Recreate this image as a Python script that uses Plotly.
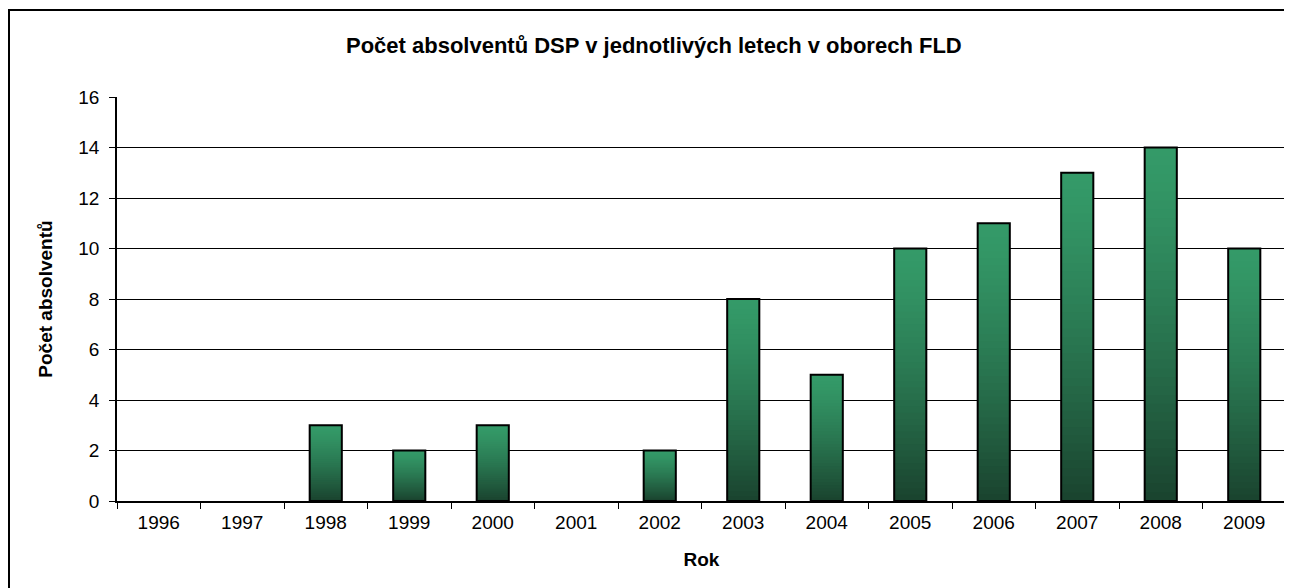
import plotly.graph_objects as go

years = ["1996", "1997", "1998", "1999", "2000", "2001", "2002",
         "2003", "2004", "2005", "2006", "2007", "2008", "2009"]
graduates = [0, 0, 3, 2, 3, 0, 2, 8, 5, 10, 11, 13, 14, 10]
y_ticks = [0, 2, 4, 6, 8, 10, 12, 14, 16]

OFF = 8  # page body margin
W, H = 1292 - OFF, 588 - OFF
L, T = 117 - OFF, 97 - OFF
R = W - (1286 - OFF)
B = H - (501 - OFF)
pw, ph = W - L - R, H - T - B

top_rgb = (52, 154, 104)
bot_rgb = (26, 68, 47)

fig = go.Figure()
N = 40
for k in range(N):
    f = 1 - k / N          # fraction of bar height
    t = (k / (N - 1)) ** 1.3
    c = tuple(round(top_rgb[i] + (bot_rgb[i] - top_rgb[i]) * t) for i in range(3))
    fig.add_trace(go.Bar(
        x=years, y=[v * f for v in graduates],
        marker=dict(color="rgb(%d,%d,%d)" % c, line=dict(width=0)),
        hoverinfo="skip", showlegend=False))
fig.add_trace(go.Bar(
    x=years, y=[v if v > 0 else None for v in graduates],
    marker=dict(color="rgba(0,0,0,0)", line=dict(color="black", width=2)),
    showlegend=False, name="Počet absolventů"))

fig.update_layout(
    width=W, height=H,
    margin=dict(l=L, r=R, t=T, b=B),
    barmode="overlay", bargap=0.615,
    paper_bgcolor="white", plot_bgcolor="white",
    font=dict(family="Liberation Sans, Arial, sans-serif", size=19, color="black"),
    title=dict(text="<b>Počet absolventů DSP v jednotlivých letech v oborech FLD</b>",
               font=dict(size=22), xref="container", x=0.503, xanchor="center",
               yref="container", y=1 - (45 - OFF) / H, yanchor="middle"),
)
fig.update_xaxes(
    type="category", showline=True, linecolor="black", linewidth=1.5,
    ticks="outside", tickson="boundaries", ticklen=6, tickcolor="black",
    ticklabelstandoff=3, showgrid=False,
    title=dict(text="<b>Rok</b>", font=dict(size=19), standoff=21),
)
fig.update_yaxes(
    range=[0, 16], tickvals=y_ticks, showline=True, linecolor="black", linewidth=1.5,
    ticks="outside", ticklen=6, tickcolor="black", ticklabelstandoff=6,
    showgrid=True, gridcolor="black", gridwidth=1,
    zeroline=False,
    title=dict(text="<b>Počet absolventů</b>", font=dict(size=19), standoff=21),
)
# plot-area right border (grey)
fig.add_shape(type="line", xref="paper", yref="paper", x0=1, x1=1, y0=0, y1=1,
              line=dict(color="#808080", width=1.5), layer="below")
# outer chart frame
fig.add_shape(type="rect", xref="paper", yref="paper",
              x0=(9 - 117) / pw, x1=(1310 - 117) / pw,
              y0=-(610 - 501) / ph, y1=1 + (97 - 10) / ph,
              line=dict(color="black", width=2))

fig.write_html("out.html")
